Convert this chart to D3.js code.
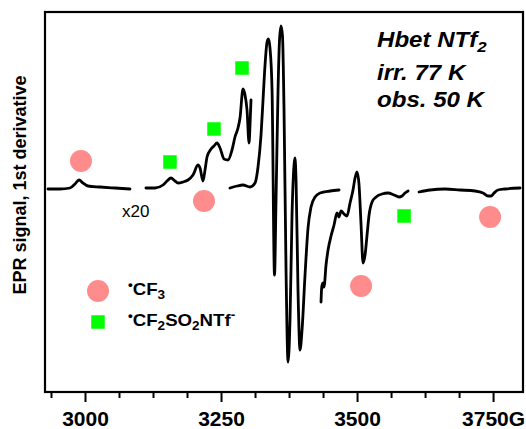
<!DOCTYPE html>
<html>
<head>
<meta charset="utf-8">
<script src="https://cdn.jsdelivr.net/npm/d3@7"></script>
<style>
  body { margin: 0; background: #fff; }
  text { font-family: "Liberation Sans", Arial, sans-serif; }
</style>
</head>
<body>
<svg id="chart" width="526" height="429"></svg>
<script>
// EPR spectrum, Hbet NTf2, irradiated at 77 K, observed at 50 K.
// Field in gauss, signal in arbitrary units (1st derivative).

// Wing segment, low field (x20)
const wingLowField  = [2932, 2954, 2972.4, 2981.6, 2989, 2996.3, 3005.5, 3027.6, 3055, 3082.7];
const wingLowSignal = [-0.01, -0.01, 0.00, 0.04, 0.08, 0.05, 0.02, 0.01, 0.00, -0.01];

// Wing segment, inner low field (x20)
const innerLowField  = [3112, 3128.7, 3143.4, 3150.7, 3158, 3165.4, 3171, 3180, 3189.3, 3198.5, 3207.7, 3211.4,
                        3216.9, 3220.6, 3224.3, 3231.6, 3237.1, 3242.6, 3248.2, 3255.5, 3262.9, 3270.2, 3275.7,
                        3281.2, 3284.9, 3290.4, 3294.1, 3297.8, 3301.5, 3303.3, 3305.1];
const innerLowSignal = [0.00, 0.00, 0.03, 0.07, 0.10, 0.07, 0.05, 0.06, 0.08, 0.13, 0.23, 0.20,
                        0.07, 0.18, 0.31, 0.39, 0.42, 0.45, 0.40, 0.29, 0.28, 0.38, 0.51,
                        0.60, 0.70, 0.99, 0.93, 0.78, 0.45, 0.63, 0.88];

// Central part of the spectrum
const centerField  = [3266.5, 3279.4, 3290.4, 3303.3, 3312.5, 3318, 3323.5, 3327.2, 3330.9, 3334.6, 3337.3, 3340,
                      3343.8, 3348.3, 3351.1, 3354.8, 3357.5, 3360.3, 3363, 3365.8, 3369.5, 3373.2, 3376.8,
                      3380.5, 3384.2, 3386, 3387.9, 3391.5, 3395.2, 3398.9, 3404.4, 3409.9, 3415.4, 3422.8,
                      3432, 3450.4, 3466.9];
const centerSignal = [0.00, 0.02, 0.03, 0.01, 0.05, 0.21, 0.53, 0.88, 1.23, 1.46, 1.49, 1.40,
                      0.98, -0.87, -0.12, 0.98, 1.48, 1.62, 1.52, 0.78, -0.82, -1.74, -1.32,
                      -0.27, 0.23, 0.30, 0.08, -1.02, -1.62, -1.42, -0.87, -0.40, -0.19, -0.09,
                      -0.05, -0.03, -0.02];

// Wing segment, inner high field (x20)
const innerHighField  = [3433.8, 3434.7, 3435.7, 3437.5, 3439.3, 3443, 3446.7, 3452.2, 3457.7, 3463.2, 3466.9,
                         3470.6, 3476.1, 3481.6, 3487.1, 3492.6, 3496.3, 3500, 3503.7, 3507.4, 3511, 3514.7,
                         3518.4, 3522.1, 3527.6, 3535, 3546, 3557, 3568, 3577.2, 3582.7, 3588.2, 3593.8];
const innerHighSignal = [-1.14, -1.02, -0.97, -0.95, -0.99, -0.77, -0.62, -0.48, -0.37, -0.25, -0.29,
                         -0.23, -0.26, -0.28, -0.15, -0.02, 0.10, 0.16, 0.03, -0.37, -0.75, -0.67,
                         -0.47, -0.27, -0.14, -0.09, -0.06, -0.05, -0.07, -0.09, -0.08, -0.05, -0.03];

// Wing segment, high field (x20)
const wingHighField  = [3614, 3634.2, 3661.8, 3689.3, 3716.9, 3731.6, 3740.8, 3746.3, 3751.8, 3759.2, 3772, 3799.6];
const wingHighSignal = [-0.04, -0.02, -0.01, -0.02, -0.03, -0.05, -0.08, -0.08, -0.05, -0.02, -0.01, 0.00];

// Line assignments
const cf3Field  = [2992.6, 3218.7, 3507.4, 3744.5];
const cf3Signal = [0.27, -0.13, -0.98, -0.29];
const cf2Field  = [3156.2, 3237.1, 3288.6, 3586.4];
const cf2Signal = [0.26, 0.59, 1.20, -0.28];

// Axis ticks
const majorTicks = [3000, 3250, 3500, 3750];
const minorTicks = [2937.5, 3062.5, 3125, 3187.5, 3312.5, 3375, 3437.5, 3562.5, 3625, 3687.5];
const tickLabels = ["3000", "3250", "3500", "3750G"];

const CF3_COLOR = "#ff8c8c";
const CF2_COLOR = "#00ff00";

const svg = d3.select("#chart");
const plotL = 45, plotR = 523, plotT = 12, plotB = 392;

const x = d3.scaleLinear().domain([2926.5, 3805]).range([plotL, plotR]);
const y = d3.scaleLinear().domain([-2.04, 1.76]).range([plotB, plotT]);

// Frame
svg.append("rect")
  .attr("x", plotL).attr("y", plotT)
  .attr("width", plotR - plotL).attr("height", plotB - plotT)
  .attr("fill", "none").attr("stroke", "#000").attr("stroke-width", 2.2);

// Bottom axis: minor then major ticks
const minorAxis = d3.axisBottom(x).tickValues(minorTicks).tickSize(6).tickFormat("");
const majorAxis = d3.axisBottom(x).tickValues(majorTicks).tickSize(10).tickPadding(9)
  .tickFormat((d, i) => tickLabels[i]);

[minorAxis, majorAxis].forEach(ax => {
  const g = svg.append("g").attr("transform", `translate(0,${plotB})`).call(ax);
  g.select(".domain").remove();
  g.selectAll(".tick line").attr("stroke", "#000").attr("stroke-width", 2);
  g.selectAll(".tick text")
    .attr("fill", "#000")
    .style("font-family", '"Liberation Sans", Arial, sans-serif')
    .style("font-size", "21px").style("font-weight", "bold");
});

// Y-axis title
svg.append("text")
  .attr("transform", "translate(26,185) rotate(-90)")
  .attr("text-anchor", "middle")
  .style("font-size", "18px").style("font-weight", "bold")
  .text("EPR signal, 1st derivative");

// Spectrum segments
const segments = [
  [wingLowField, wingLowSignal],
  [innerLowField, innerLowSignal],
  [centerField, centerSignal],
  [innerHighField, innerHighSignal],
  [wingHighField, wingHighSignal]
].map(([f, s]) => f.map((v, i) => [v, s[i]]));

const line = d3.line()
  .x(d => x(d[0])).y(d => y(d[1]))
  .curve(d3.curveMonotoneX);

svg.append("g").selectAll("path")
  .data(segments)
  .join("path")
  .attr("d", line)
  .attr("fill", "none")
  .attr("stroke", "#000")
  .attr("stroke-width", 2.8)
  .attr("stroke-linejoin", "round")
  .attr("stroke-linecap", "round");

// Assignment markers
svg.append("g").selectAll("circle")
  .data(cf3Field.map((f, i) => [f, cf3Signal[i]]))
  .join("circle")
  .attr("cx", d => x(d[0])).attr("cy", d => y(d[1]))
  .attr("r", 11).attr("fill", CF3_COLOR);

const sq = 13.5;
svg.append("g").selectAll("rect")
  .data(cf2Field.map((f, i) => [f, cf2Signal[i]]))
  .join("rect")
  .attr("x", d => x(d[0]) - sq / 2).attr("y", d => y(d[1]) - sq / 2)
  .attr("width", sq).attr("height", sq).attr("fill", CF2_COLOR);

// Scale factor note
svg.append("text").attr("x", 122).attr("y", 217)
  .style("font-size", "17px").text("x20");

// Sample / conditions (slightly widened lettering)
const info = svg.append("g")
  .attr("transform", "translate(377,0) scale(1.12,1)")
  .style("font-size", "21.5px").style("font-weight", "bold").style("font-style", "italic");
const l1 = info.append("text").attr("x", 0).attr("y", 47);
l1.append("tspan").text("Hbet NTf");
l1.append("tspan").attr("dy", 5).style("font-size", "15px").text("2");
info.append("text").attr("x", 0).attr("y", 80).text("irr. 77 K");
info.append("text").attr("x", 0).attr("y", 107).text("obs. 50 K");

// Legend
const legend = svg.append("g");
legend.append("circle").attr("cx", 98).attr("cy", 291).attr("r", 11).attr("fill", CF3_COLOR);
legend.append("rect").attr("x", 98 - sq / 2).attr("y", 322 - sq / 2)
  .attr("width", sq).attr("height", sq).attr("fill", CF2_COLOR);

const legendText = legend.append("g")
  .attr("transform", "translate(128,0) scale(1.13,1)")
  .style("font-size", "16.5px").style("font-weight", "bold");

const t1 = legendText.append("text").attr("x", 0).attr("y", 295);
t1.append("tspan").attr("dy", -6).style("font-size", "12px").text("\u2022");
t1.append("tspan").attr("dy", 6).text("CF");
t1.append("tspan").attr("dy", 4).style("font-size", "12px").text("3");

const t2 = legendText.append("text").attr("x", 0).attr("y", 326);
t2.append("tspan").attr("dy", -6).style("font-size", "12px").text("\u2022");
t2.append("tspan").attr("dy", 6).text("CF");
t2.append("tspan").attr("dy", 4).style("font-size", "12px").text("2");
t2.append("tspan").attr("dy", -4).text("SO");
t2.append("tspan").attr("dy", 4).style("font-size", "12px").text("2");
t2.append("tspan").attr("dy", -4).text("NTf");
t2.append("tspan").attr("dy", -7).style("font-size", "12px").text("-");
</script>
</body>
</html>
